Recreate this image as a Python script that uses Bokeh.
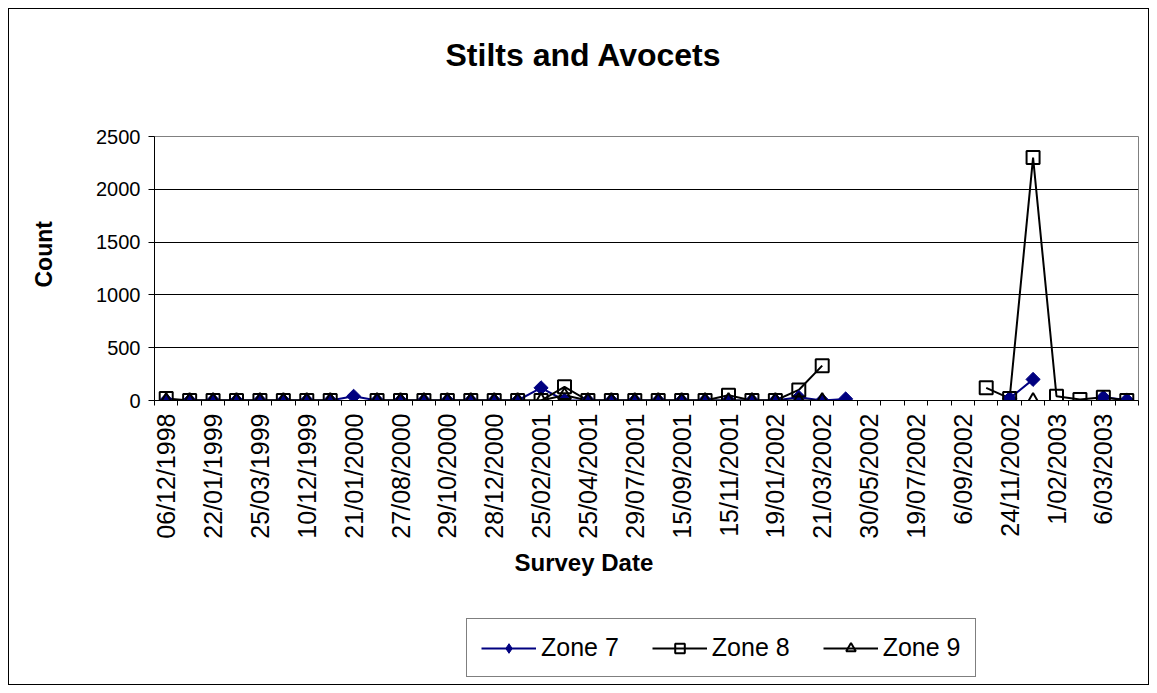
import numpy as np
from bokeh.plotting import figure
from bokeh.layouts import column
from bokeh.models import FixedTicker, Range1d, Legend, LegendItem, Title
from bokeh.embed import file_html
from bokeh.resources import INLINE

nan = float("nan")

# Tick labels shown on every second category (Excel skips alternate labels)
tick_labels = ["06/12/1998", "22/01/1999", "25/03/1999", "10/12/1999", "21/01/2000",
               "27/08/2000", "29/10/2000", "28/12/2000", "25/02/2001", "25/04/2001",
               "29/07/2001", "15/09/2001", "15/11/2001", "19/01/2002", "21/03/2002",
               "30/05/2002", "19/07/2002", "6/09/2002", "24/11/2002", "1/02/2003",
               "6/03/2003"]

zone7 = [0, 0, 0, 0, 0, 0, 0, 0, 40, 0,
         0, 0, 0, 0, 0, 0, 120, 0, 0, 0,
         0, 0, 0, 0, 0, 0, 0, 30, 0, 15,
         nan, nan, nan, nan, nan, nan, 20, 200, nan, nan,
         30, 5]
zone8 = [20, 0, 0, 0, 0, 0, 0, 0, nan, 0,
         0, 0, 0, 0, 0, 0, 0, 130, 0, 0,
         0, 0, 0, 0, 50, 0, 0, 100, 330, nan,
         nan, nan, nan, nan, nan, 120, 20, 2300, 40, 10,
         30, 0]
zone9 = [0, 0, 0, 0, 0, 0, 0, 0, nan, 0,
         0, 0, 0, 0, 0, 0, 0, 50, 0, 0,
         0, 0, 0, 0, 0, 0, 0, 0, 0, nan,
         nan, nan, nan, nan, nan, nan, nan, 0, nan, nan,
         nan, nan]
series_names = ["Zone 7", "Zone 8", "Zone 9"]

FONT = "Liberation Sans"
NAVY = "#000080"

n = len(zone7)
x = np.arange(n)
ys = [np.array(v, dtype=float) for v in (zone7, zone8, zone9)]
line_colors = [NAVY, "black", "black"]
# Excel-style diamond = square turned by 45 degrees
markers = ["square", "square", "triangle"]
angles = [np.pi / 4, 0.0, 0.0]
sizes = [10, 13, 13]
fills = [NAVY, None, None]
mlw = [1, 2, 2]
# legend glyphs ignore the angle, so the legend uses Bokeh's own diamond
legend_markers = ["diamond", "square", "triangle"]
legend_sizes = [16, 13, 13]

W = 1139

# ---------------- main chart ----------------
p = figure(width=W, height=600,
           x_range=Range1d(-0.5, n - 0.5), y_range=Range1d(0, 2500),
           output_backend="svg", toolbar_location=None,
           min_border_left=145, min_border_right=10,
           min_border_top=127, min_border_bottom=209)
p.background_fill_color = "white"
p.border_fill_color = "white"
p.outline_line_color = "#808080"
p.outline_line_width = 1

main_title = Title(text="Stilts and Avocets", align="left", offset=291, standoff=10,
                   text_font=FONT, text_font_size="32px", text_font_style="bold",
                   text_color="black")
spacer_top = Title(text=" ", text_font=FONT, text_font_size="20px", standoff=35)
p.title = None
p.above = [spacer_top, main_title]

xa = p.xaxis[0]
even_ticks = list(range(0, n, 2))
xa.ticker = FixedTicker(ticks=even_ticks, minor_ticks=[i - 0.5 for i in range(n + 1)])
xa.major_label_overrides = {t: lab for t, lab in zip(even_ticks, tick_labels)}
xa.major_label_orientation = np.pi / 2
xa.major_tick_line_color = None
xa.major_tick_out = 0
xa.major_tick_in = 0
xa.minor_tick_line_color = "black"
xa.minor_tick_out = 5
xa.minor_tick_in = 0
xa.major_label_standoff = 8
xa.major_label_text_font = FONT
xa.major_label_text_font_size = "25px"
xa.major_label_text_color = "black"
xa.axis_line_color = "black"

ya = p.yaxis[0]
ya.ticker = FixedTicker(ticks=[0, 500, 1000, 1500, 2000, 2500])
ya.major_tick_out = 6
ya.major_tick_in = 0
ya.minor_tick_line_color = None
ya.major_label_standoff = 8
ya.major_label_text_font = FONT
ya.major_label_text_font_size = "20px"
ya.major_label_text_color = "black"
ya.axis_line_color = "black"

p.xgrid.grid_line_color = None
p.ygrid.grid_line_color = "black"
p.ygrid.grid_line_width = 1

spacer_left = Title(text=" ", text_font=FONT, text_font_size="20px", standoff=8)
p.add_layout(spacer_left, "left")
p.add_layout(Title(text="Count", align="left", offset=113, standoff=10,
                   text_font=FONT, text_font_size="23px", text_font_style="bold",
                   text_color="black"), "left")
p.add_layout(Title(text="Survey Date", align="left", offset=360, standoff=10,
                   text_font=FONT, text_font_size="24px", text_font_style="bold",
                   text_color="black"), "below")

for y, c in zip(ys, line_colors):
    p.line(x, y, line_color=c, line_width=2)
for y, c, m, a, s, f, w in zip(ys, line_colors, markers, angles, sizes, fills, mlw):
    p.scatter(x, y, marker=m, angle=a, size=s, fill_color=f, line_color=c, line_width=w)

# ---------------- legend strip ----------------
q = figure(width=W, height=75, x_range=Range1d(1000, 1001), y_range=Range1d(1000, 1001),
           output_backend="svg", toolbar_location=None,
           x_axis_location=None, y_axis_location=None,
           min_border=0, min_border_left=0, min_border_right=0,
           min_border_top=0, min_border_bottom=0)
q.title = None
q.outline_line_color = None
q.xgrid.grid_line_color = None
q.ygrid.grid_line_color = None
q.background_fill_color = "white"
q.border_fill_color = "white"

items = []
for name, y, c, m, s, f, w in zip(series_names, ys, line_colors, legend_markers,
                                  legend_sizes, fills, mlw):
    lr = q.line(x, y, line_color=c, line_width=2)
    sr = q.scatter(x, y, marker=m, size=s, fill_color=f, line_color=c, line_width=w)
    items.append(LegendItem(label=name, renderers=[lr, sr]))

legend = Legend(items=items, orientation="horizontal", location=(312, 7),
                border_line_color="black", border_line_width=1,
                background_fill_color="white", background_fill_alpha=1,
                glyph_width=55, glyph_height=24, label_standoff=5, spacing=33,
                padding=14, margin=0,
                label_text_font=FONT, label_text_font_size="25px", label_text_color="black")
q.add_layout(legend, "center")

layout = column(p, q, spacing=0)
layout.styles = {"border": "1px solid black", "margin-left": "8px", "margin-top": "8px"}

open("out.html", "w").write(file_html(layout, INLINE))
